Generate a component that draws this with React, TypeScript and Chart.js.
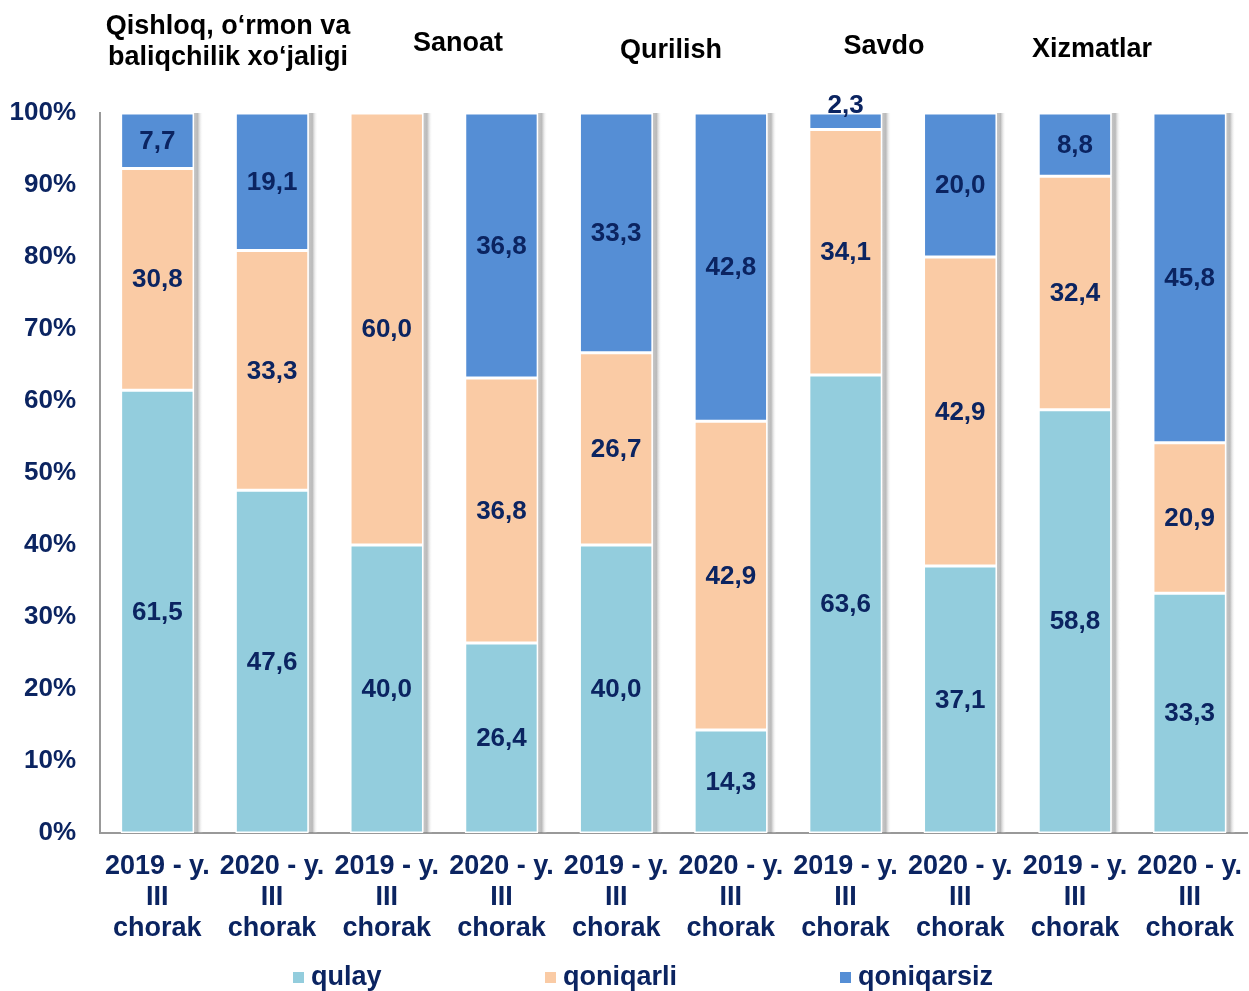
import React, { useEffect, useRef } from "react";
import { Chart, registerables } from "chart.js";

Chart.register(...registerables);

const categories: string[][] = [
  ["2019 - y.", "III", "chorak"],
  ["2020 - y.", "III", "chorak"],
  ["2019 - y.", "III", "chorak"],
  ["2020 - y.", "III", "chorak"],
  ["2019 - y.", "III", "chorak"],
  ["2020 - y.", "III", "chorak"],
  ["2019 - y.", "III", "chorak"],
  ["2020 - y.", "III", "chorak"],
  ["2019 - y.", "III", "chorak"],
  ["2020 - y.", "III", "chorak"],
];

const qulay = [61.5, 47.6, 40.0, 26.4, 40.0, 14.3, 63.6, 37.1, 58.8, 33.3];
const qoniqarli = [30.8, 33.3, 60.0, 36.8, 26.7, 42.9, 34.1, 42.9, 32.4, 20.9];
const qoniqarsiz = [7.7, 19.1, 0, 36.8, 33.3, 42.8, 2.3, 20.0, 8.8, 45.8];

const seriesNames = ["qulay", "qoniqarli", "qoniqarsiz"];
const groupTitles: string[][] = [
  ["Qishloq, o‘rmon va", "baliqchilik xo‘jaligi"],
  ["Sanoat"],
  ["Qurilish"],
  ["Savdo"],
  ["Xizmatlar"],
];

const COLORS = ["#93CDDD", "#FACBA5", "#558ED5"];
const NAVY = "#0B2461";
const FONT = "Arial, 'Liberation Sans', Helvetica, sans-serif";

// title layout (x center, first line y center)
const titlePos = [
  { x: 228, y: 27 },
  { x: 458, y: 44 },
  { x: 671, y: 51 },
  { x: 884, y: 47 },
  { x: 1092, y: 50 },
];
const legendPos = [293, 545, 840];

const decorPlugin = {
  id: "decor",
  beforeDatasetsDraw(chart: any) {
    const ctx = chart.ctx;
    const yScale = chart.scales.y;
    const n = chart.data.labels.length;
    const metas = chart.data.datasets.map((_: any, i: number) => chart.getDatasetMeta(i));
    for (let i = 0; i < n; i++) {
      let top = Infinity;
      let bar: any = null;
      metas.forEach((m: any) => {
        const el = m.data[i];
        if (el) {
          bar = el;
          top = Math.min(top, el.y);
        }
      });
      if (!bar) continue;
      const right = bar.x + bar.width / 2;
      const bottom = yScale.getPixelForValue(0);
      const g = ctx.createLinearGradient(right, 0, right + 9, 0);
      g.addColorStop(0, "rgba(150,150,150,0.55)");
      g.addColorStop(0.4, "rgba(140,140,140,0.6)");
      g.addColorStop(1, "rgba(255,255,255,0)");
      ctx.save();
      ctx.fillStyle = g;
      ctx.fillRect(right, top, 9, bottom - top);
      ctx.restore();
    }
  },
  afterDatasetsDraw(chart: any) {
    const ctx = chart.ctx;
    ctx.save();
    ctx.font = `bold 26px ${FONT}`;
    ctx.fillStyle = NAVY;
    ctx.textAlign = "center";
    ctx.textBaseline = "middle";
    chart.data.datasets.forEach((ds: any, di: number) => {
      const meta = chart.getDatasetMeta(di);
      meta.data.forEach((el: any, i: number) => {
        const v = ds.data[i];
        if (!v) return;
        const h = Math.abs(el.base - el.y);
        const txt = v.toFixed(1).replace(".", ",");
        let y = (el.y + el.base) / 2 + 1;
        if (h < 26) y = el.y - 7;
        ctx.fillText(txt, el.x, y);
      });
    });
    ctx.restore();
  },
  afterDraw(chart: any) {
    const ctx = chart.ctx;
    ctx.save();
    // group titles
    ctx.font = `bold 27px ${FONT}`;
    ctx.fillStyle = "#000000";
    ctx.textAlign = "center";
    ctx.textBaseline = "middle";
    groupTitles.forEach((lines, gi) => {
      const p = titlePos[gi];
      lines.forEach((line, li) => {
        ctx.fillText(line, p.x, p.y + li * 31);
      });
    });
    // legend
    ctx.textAlign = "left";
    ctx.font = `bold 27px ${FONT}`;
    const ly = 978;
    seriesNames.forEach((name, i) => {
      const x = legendPos[i];
      ctx.fillStyle = COLORS[i];
      ctx.fillRect(x, ly - 6, 11, 11);
      ctx.fillStyle = NAVY;
      ctx.fillText(name, x + 18, ly);
    });
    ctx.restore();
  },
};

export default function App() {
  const ref = useRef<HTMLCanvasElement | null>(null);
  useEffect(() => {
    if (!ref.current) return;
    const data = [qulay, qoniqarli, qoniqarsiz];
    const chart = new Chart(ref.current, {
      type: "bar",
      data: {
        labels: categories,
        datasets: seriesNames.map((name, i) => ({
          label: name,
          data: data[i],
          backgroundColor: COLORS[i],
          borderColor: "#FFFFFF",
          borderWidth: 1.5,
          borderSkipped: false,
          barPercentage: 0.64,
          categoryPercentage: 1,
        })),
      },
      options: {
        responsive: false,
        animation: false,
        layout: { padding: { top: 113, left: 0, right: 2, bottom: 48 } },
        plugins: {
          legend: { display: false },
          tooltip: { enabled: false },
        },
        scales: {
          x: {
            stacked: true,
            grid: { display: false, drawTicks: false },
            border: { display: true, color: "#999999", width: 2 },
            ticks: {
              color: NAVY,
              font: { family: FONT, size: 27, weight: "bold", lineHeight: 1.15 },
              padding: 18,
              maxRotation: 0,
              autoSkip: false,
            },
            afterFit(scale: any) {
              scale.height = 110;
              scale.paddingLeft = 0;
              scale.paddingRight = 0;
            },
          },
          y: {
            stacked: true,
            min: 0,
            max: 100,
            grid: { display: false, drawTicks: false },
            border: { display: true, color: "#999999", width: 2 },
            ticks: {
              stepSize: 10,
              color: NAVY,
              font: { family: FONT, size: 26, weight: "bold" },
              padding: 24,
              callback: (v: any) => v + "%",
            },
            afterFit(scale: any) {
              scale.width = 100;
              scale.paddingTop = 0;
              scale.paddingBottom = 0;
            },
          },
        },
      },
      plugins: [decorPlugin],
    });
    return () => chart.destroy();
  }, []);
  return (
    <div style={{ position: "absolute", left: 0, top: 0, width: 1249, height: 991, background: "#fff" }}>
      <canvas ref={ref} width={1249} height={991} />
    </div>
  );
}
